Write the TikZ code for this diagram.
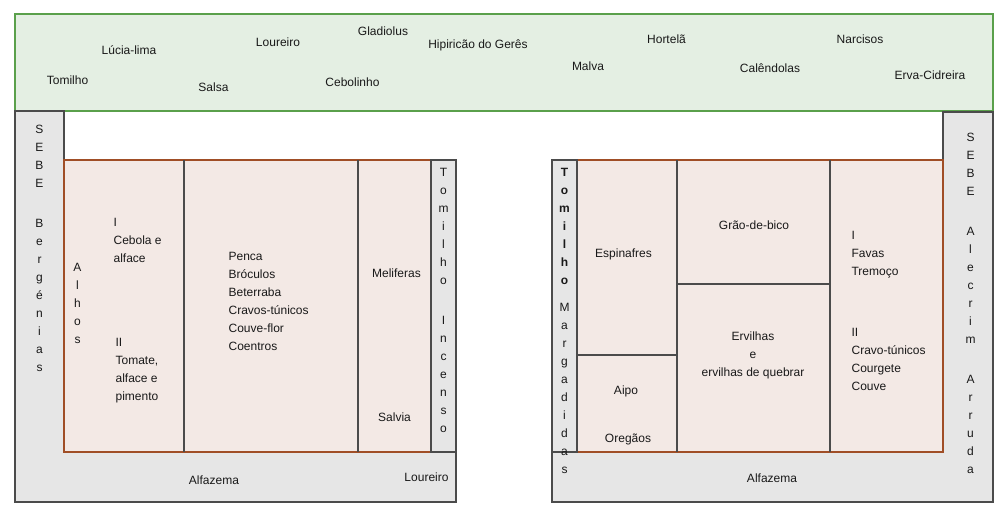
\documentclass[tikz,border=0pt]{standalone}
\usepackage{fontspec}
\setmainfont{Liberation Sans}
\usepackage{tikz}
\definecolor{bandfill}{RGB}{228,239,227}
\definecolor{bandgreen}{RGB}{90,160,75}
\definecolor{hedgegray}{RGB}{230,230,230}
\definecolor{edgegray}{RGB}{75,75,75}
\definecolor{bedfill}{RGB}{243,233,229}
\definecolor{bedbrown}{RGB}{160,78,38}
\definecolor{inkgray}{RGB}{25,25,25}

\begin{document}
\begin{tikzpicture}[x=1pt, y=-1pt, line width=1.2pt,
    every node/.style={font=\fontsize{12}{18}\selectfont, text=inkgray, inner sep=0pt},
    lbl/.style={anchor=base},
    stack/.style={anchor=north, align=center},
    list/.style={anchor=north west, align=left}]
    \useasboundingbox (0,0) rectangle (1006,514);

    \filldraw[fill=bandfill, draw=bandgreen] (15,14) rectangle (993,111);
    \filldraw[fill=hedgegray, draw=edgegray] (15,111) -- (64,111) -- (64,452) -- (456,452) -- (456,502) -- (15,502) -- cycle;
    \filldraw[fill=hedgegray, draw=edgegray] (943,112) -- (993,112) -- (993,502) -- (552,502) -- (552,452) -- (943,452) -- cycle;

    \filldraw[fill=bedfill, draw=bedbrown] (64,160) rectangle (431,452);
    \draw[edgegray] (184,160) -- (184,452);
    \draw[edgegray] (358,160) -- (358,452);
    \filldraw[fill=hedgegray, draw=edgegray] (431,160) rectangle (456,452);

    \filldraw[fill=bedfill, draw=bedbrown] (577,160) rectangle (943,452);
    \draw[edgegray] (677,160) -- (677,452);
    \draw[edgegray] (830,160) -- (830,452);
    \draw[edgegray] (577,355) -- (677,355);
    \draw[edgegray] (677,284) -- (830,284);
    \filldraw[fill=hedgegray, draw=edgegray] (552,160) rectangle (577,452);

    \node[lbl] (tomilho) at (67.5,84.5) {Tomilho};
    \node[lbl] (lucialima) at (129,54.5) {Lúcia-lima};
    \node[lbl] (loureiroTop) at (278,46) {Loureiro};
    \node[lbl] (gladiolus) at (383,35.5) {Gladiolus};
    \node[lbl] (hipiricao) at (478,48.5) {Hipiricão do Gerês};
    \node[lbl] (salsa) at (213.5,91.5) {Salsa};
    \node[lbl] (cebolinho) at (352.5,86.5) {Cebolinho};
    \node[lbl] (malva) at (588,70) {Malva};
    \node[lbl] (hortela) at (666.5,43.5) {Hortelã};
    \node[lbl] (calendolas) at (770,72.5) {Calêndolas};
    \node[lbl] (narcisos) at (860,43.5) {Narcisos};
    \node[lbl] (ervacidreira) at (930,79.5) {Erva-Cidreira};

    \node[stack] (sebeL) at (39.5,125) {S\\E\\B\\E\\[22pt]B\\e\\r\\g\\é\\n\\i\\a\\s};
    \node[stack] (alhos) at (77.5,262.5) {A\\l\\h\\o\\s};
    \node[list] (cebola) at (113,217.5) {I\\Cebola e\\alface};
    \node[list] (tomate) at (115,337.5) {II\\Tomate,\\alface e\\pimento};
    \node[list] (penca) at (228,251.5) {Penca\\Bróculos\\Beterraba\\Cravos-túnicos\\Couve-flor\\Coentros};
    \node[lbl] (meliferas) at (396.5,277.5) {Meliferas};
    \node[lbl] (salvia) at (394.5,421.5) {Salvia};
    \node[stack] (incenso) at (443.5,167.5) {T\\o\\m\\i\\l\\h\\o\\[22pt]I\\n\\c\\e\\n\\s\\o};
    \node[lbl] (alfazemaL) at (214,484.5) {Alfazema};
    \node[lbl] (loureiroB) at (426.5,481) {Loureiro};

    \node[stack] (margadidas) at (564.5,167.5) {\textbf{T}\\\textbf{o}\\\textbf{m}\\\textbf{i}\\\textbf{l}\\\textbf{h}\\\textbf{o}\\[9pt]M\\a\\r\\g\\a\\d\\i\\d\\a\\s};
    \node[lbl] (espinafres) at (623.5,257.5) {Espinafres};
    \node[lbl] (aipo) at (626,394.5) {Aipo};
    \node[lbl] (oregaos) at (628,442.5) {Oregãos};
    \node[lbl] (graodebico) at (754,229.5) {Grão-de-bico};
    \node[stack] (ervilhas) at (753,331) {Ervilhas\\e\\ervilhas de quebrar};
    \node[list] (favas) at (851,231) {I\\Favas\\Tremoço};
    \node[list] (cravo) at (851,328) {II\\Cravo-túnicos\\Courgete\\Couve};
    \node[stack] (sebeR) at (970.5,132.5) {S\\E\\B\\E\\[22pt]A\\l\\e\\c\\r\\i\\m\\[22pt]A\\r\\r\\u\\d\\a};
    \node[lbl] (alfazemaR) at (772,482.5) {Alfazema};
\end{tikzpicture}
\end{document}
